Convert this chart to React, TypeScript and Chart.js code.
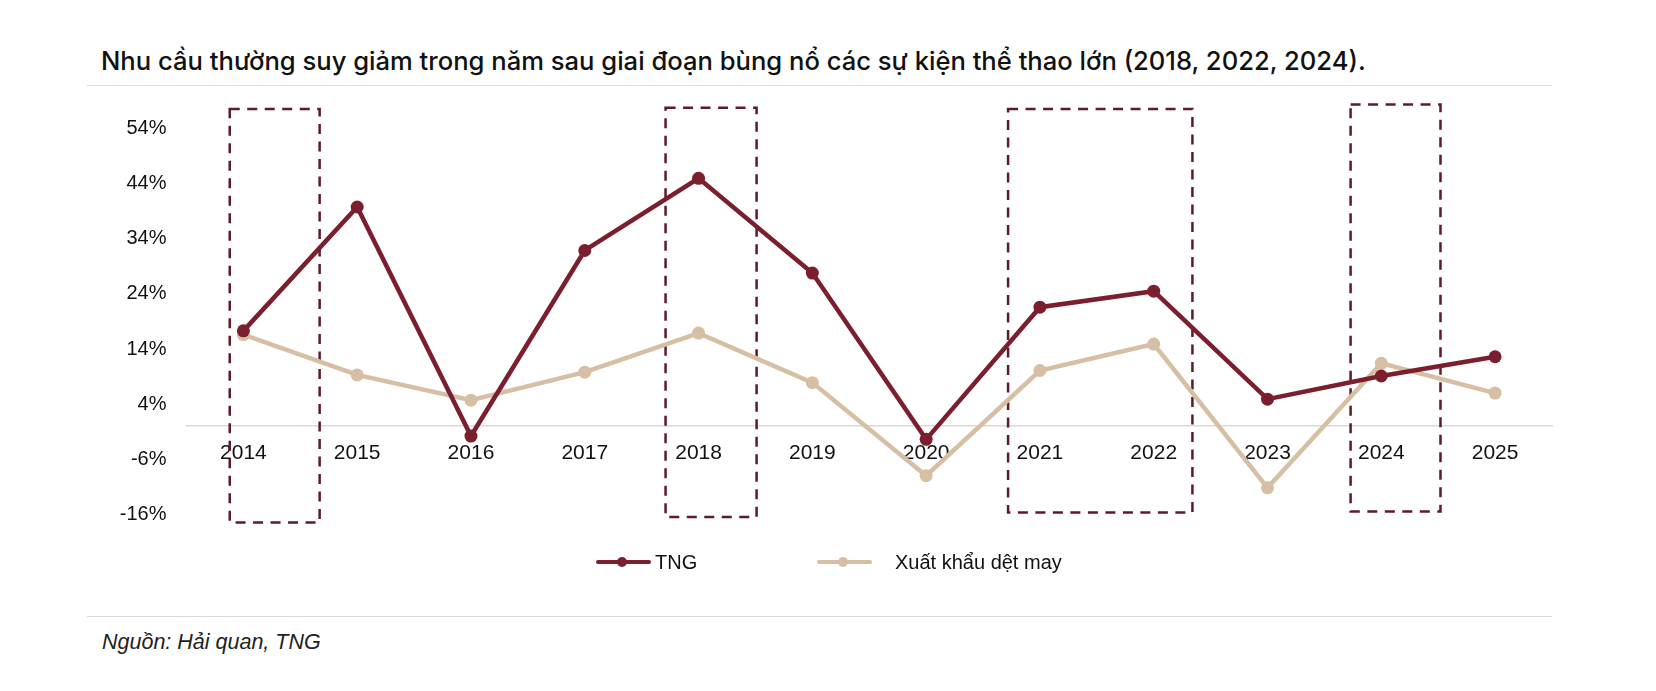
import { useEffect, useRef } from "react"
import { Chart, registerables } from "chart.js"

Chart.register(...registerables)

const TITLE = "Nhu cầu thường suy giảm trong năm sau giai đoạn bùng nổ các sự kiện thể thao lớn (2018, 2022, 2024)."
const SOURCE = "Nguồn: Hải quan, TNG"

const YEARS = ["2014", "2015", "2016", "2017", "2018", "2019", "2020", "2021", "2022", "2023", "2024", "2025"]
const TNG = [17.3, 39.8, -1.8, 31.9, 45.0, 27.8, -2.4, 21.6, 24.5, 4.9, 9.1, 12.6]
const XUAT_KHAU = [16.6, 9.3, 4.7, 9.8, 16.9, 7.9, -9.0, 10.1, 14.9, -11.2, 11.4, 6.0]
const Y_TICKS = [-16, -6, 4, 14, 24, 34, 44, 54]
const SERIES_NAMES = ["TNG", "Xuất khẩu dệt may"]

// highlighted periods (first year, last year)
const HIGHLIGHTS = [
  ["2014", "2014"],
  ["2018", "2018"],
  ["2021", "2022"],
  ["2024", "2024"],
]

const TNG_COLOR = "#7B1F2E"
const XK_COLOR = "#D6BFA4"
const BOX_COLOR = "#5E1A28"
const FONT = "'Liberation Sans', Arial, sans-serif"

// box extents: left/right in category steps from the first/last year, top/bottom in axis units
const BOX_SHAPES = [
  { left: -0.12, right: 0.67, top: 57.6, bottom: -17.5 },
  { left: -0.29, right: 0.51, top: 57.8, bottom: -16.5 },
  { left: -0.28, right: 0.34, top: 57.6, bottom: -15.7 },
  { left: -0.27, right: 0.52, top: 58.4, bottom: -15.5 },
]

const highlightPlugin = {
  id: "highlightBoxes",
  beforeDatasetsDraw(chart: any) {
    const { ctx, scales } = chart
    const x = scales.x
    const y = scales.y
    const step = x.getPixelForValue(1) - x.getPixelForValue(0)
    ctx.save()
    ctx.strokeStyle = BOX_COLOR
    ctx.lineWidth = 2.5
    ctx.setLineDash([10, 7.5])
    HIGHLIGHTS.forEach(([from, to], i) => {
      const s = BOX_SHAPES[i]
      const left = x.getPixelForValue(YEARS.indexOf(from)) + s.left * step
      const right = x.getPixelForValue(YEARS.indexOf(to)) + s.right * step
      const top = y.getPixelForValue(s.top)
      const bottom = y.getPixelForValue(s.bottom)
      ctx.strokeRect(left, top, right - left, bottom - top)
    })
    ctx.restore()
  },
}

function LegendItem({ color, label, left }: { color: string; label: string; left: number }) {
  return (
    <div style={{ position: "absolute", left, top: 550, height: 24, display: "flex", alignItems: "center" }}>
      <div style={{ position: "relative", width: 55, height: 12 }}>
        <div style={{ position: "absolute", left: 0, right: 0, top: 4, height: 4, borderRadius: 2, background: color }} />
        <div style={{ position: "absolute", left: 21, top: 1, width: 10, height: 10, borderRadius: 5, background: color }} />
      </div>
      <span style={{ font: `20px ${FONT}`, color: "#111", marginLeft: label === "TNG" ? 4 : 23 }}>{label}</span>
    </div>
  )
}

export default function App() {
  const chartRef = useRef<HTMLCanvasElement>(null)
  const chartInstance = useRef<Chart | null>(null)

  useEffect(() => {
    if (!chartRef.current) return

    if (chartInstance.current) {
      chartInstance.current.destroy()
    }

    chartInstance.current = new Chart(chartRef.current, {
      type: "line",
      data: {
        labels: YEARS,
        datasets: [
          {
            label: SERIES_NAMES[0],
            data: TNG,
            borderColor: TNG_COLOR,
            backgroundColor: TNG_COLOR,
            borderWidth: 4.5,
            pointRadius: 6.5,
            pointBorderWidth: 0,
            pointBackgroundColor: TNG_COLOR,
            tension: 0,
          },
          {
            label: SERIES_NAMES[1],
            data: XUAT_KHAU,
            borderColor: XK_COLOR,
            backgroundColor: XK_COLOR,
            borderWidth: 4.5,
            pointRadius: 6.5,
            pointBorderWidth: 0,
            pointBackgroundColor: XK_COLOR,
            tension: 0,
          },
        ],
      },
      options: {
        responsive: true,
        maintainAspectRatio: false,
        animation: false,
        layout: {
          padding: { top: 0, bottom: 0, right: 104, left: 0 },
        },
        plugins: {
          legend: { display: false },
          tooltip: { enabled: false },
        },
        scales: {
          x: {
            position: { y: 0 },
            offset: true,
            grid: { display: false, drawTicks: false },
            border: { display: true, color: "#d9d9d9", width: 1.5 },
            ticks: {
              color: "#111",
              font: { family: FONT, size: 21 },
              padding: 14,
              autoSkip: false,
              maxRotation: 0,
            },
          },
          y: {
            min: -18.5,
            max: 58.5,
            grid: { display: false, drawTicks: false },
            border: { display: false },
            afterBuildTicks: (scale: any) => {
              scale.ticks = Y_TICKS.map((v) => ({ value: v }))
            },
            afterFit: (scale: any) => {
              scale.width = 186.5
            },
            ticks: {
              color: "#111",
              font: { family: FONT, size: 20 },
              padding: 20,
              callback: (v: any) => `${v}%`,
            },
          },
        },
      },
      plugins: [highlightPlugin],
    })

    return () => {
      if (chartInstance.current) {
        chartInstance.current.destroy()
        chartInstance.current = null
      }
    }
  }, [])

  return (
    <div style={{ position: "absolute", left: 0, top: 0, width: 1656, height: 691, background: "#fff" }}>
      <div
        style={{
          position: "absolute",
          left: 101,
          top: 45,
          font: `500 25.6px Inter, 'Noto Sans', sans-serif`,
          color: "#111",
          whiteSpace: "nowrap",
        }}
      >
        {TITLE}
      </div>
      <div style={{ position: "absolute", left: 87, width: 1465, top: 85, height: 1, background: "#dcdcdc" }} />
      <div style={{ position: "absolute", left: 0, top: 72, width: 1656, height: 488 }}>
        <canvas ref={chartRef} />
      </div>
      <LegendItem color={TNG_COLOR} label={SERIES_NAMES[0]} left={596} />
      <LegendItem color={XK_COLOR} label={SERIES_NAMES[1]} left={817} />
      <div style={{ position: "absolute", left: 87, width: 1465, top: 616, height: 1, background: "#dcdcdc" }} />
      <div
        style={{
          position: "absolute",
          left: 102,
          top: 630,
          font: `italic 21.5px ${FONT}`,
          color: "#222",
        }}
      >
        {SOURCE}
      </div>
    </div>
  )
}
